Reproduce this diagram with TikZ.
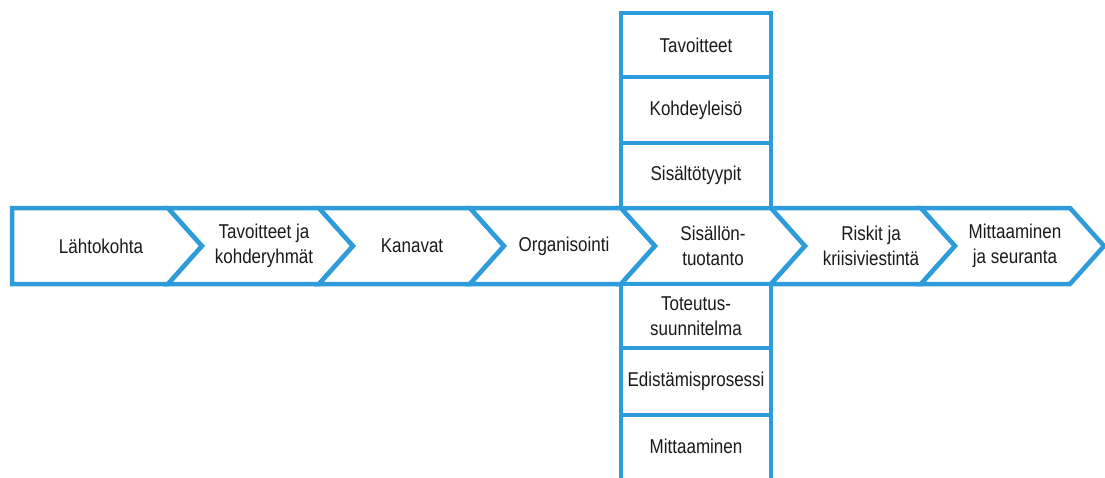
\documentclass[tikz,border=0pt]{standalone}
\usepackage{fontspec}
\setmainfont{Liberation Sans}[FakeStretch=0.85]
\definecolor{flowblue}{RGB}{46,155,219}
\definecolor{ink}{RGB}{26,26,26}
\begin{document}
\begin{tikzpicture}[x=1pt,y=-1pt,
  outline/.style={draw=flowblue,line width=4.5pt,fill=white},
  txt/.style={text=ink,font=\fontsize{20}{25}\selectfont,align=center,inner sep=0pt}]
\useasboundingbox (0,0) rectangle (1105,477);

% process row: first step is a pentagon, the rest are chevrons
\draw[outline] (12,208) -- (168,208) -- (202,246) -- (168,284) -- (12,284) -- cycle;
\foreach \a/\b in {168/319, 319/470, 470/621, 621/771, 771/921, 921/1070}
  \draw[outline] (\a,208) -- (\b,208) -- (\b+34,246) -- (\b,284) -- (\a,284) -- (\a+34,246) -- cycle;

% column of sub-topics above and below the content step
\foreach \t/\u in {13/77, 77/143, 143/208, 284/348, 348/415, 415/484}
  \draw[outline] (621,\t) rectangle (771,\u);

% step labels
\node[txt] (s1) at (101,246) {Lähtokohta};
\node[txt] (s2) at (264,246) {Tavoitteet ja\\kohderyhmät};
\node[txt] (s3) at (412,246) {Kanavat};
\node[txt] (s4) at (564,246) {Organisointi};
\node[txt] (s5) at (713,246) {Sisällön-\\tuotanto};
\node[txt] (s6) at (871,246) {Riskit ja\\kriisiviestintä};
\node[txt] (s7) at (1015,246) {Mittaaminen\\ja seuranta};

% sub-topic labels
\node[txt] (u1) at (696,45) {Tavoitteet};
\node[txt] (u2) at (696,110) {Kohdeyleisö};
\node[txt] (u3) at (696,175.5) {Sisältötyypit};
\node[txt] (d1) at (696,316) {Toteutus-\\suunnitelma};
\node[txt] (d2) at (696,381.5) {Edistämisprosessi};
\node[txt] (d3) at (696,446) {Mittaaminen};
\end{tikzpicture}
\end{document}
